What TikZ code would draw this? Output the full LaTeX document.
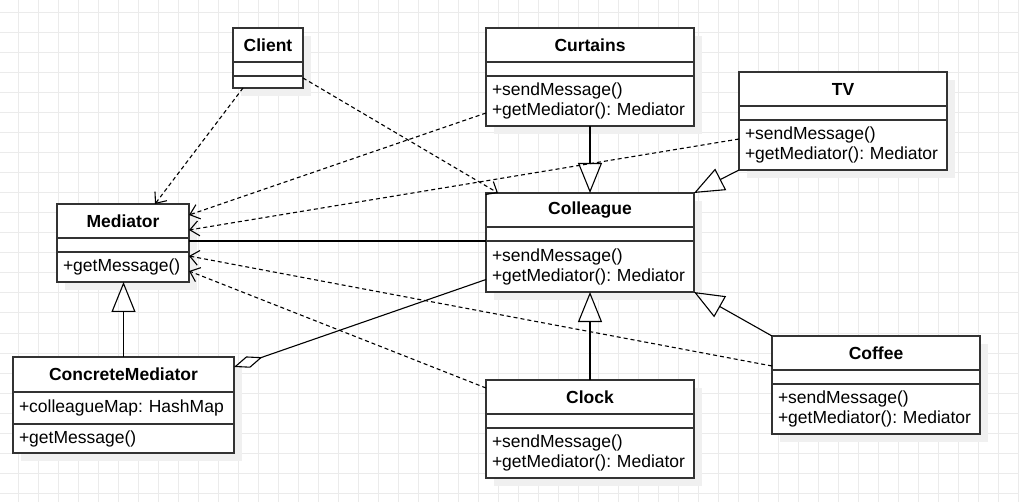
\documentclass[tikz,border=0pt]{standalone}
\usepackage{fontspec}
\setmainfont{Liberation Sans}
\frenchspacing
\usetikzlibrary{positioning, arrows.meta, shadows}

\tikzset{
	gridline/.style={black!8, line width=1pt},
	box/.style={draw=black!80, line width=1.2pt, fill=white, inner sep=0pt, outer sep=0pt,
		anchor=north, drop shadow={shadow xshift=8pt, shadow yshift=-8pt, fill=black!6, opacity=1}},
	head/.style={box, anchor=north west, font=\fontsize{17.5}{20}\selectfont\bfseries,
		minimum width=#1, minimum height=34pt},
	blank/.style={box, minimum width=#1, minimum height=14pt},
	members/.style={box, align=left, inner xsep=6pt, minimum width=#1, text width=#1-12pt},
	depend/.style={line width=1.1pt, dash pattern=on 4pt off 3pt,
		-{Straight Barb[length=9pt, width=15pt]}},
	inherit/.style={line width=1.1pt, -{Triangle[open, length=30pt, width=24pt]}},
	aggregate/.style={line width=1.1pt, {Diamond[open, length=30pt, width=12pt]}-}
}

\begin{document}
\begin{tikzpicture}[x=1pt, y=-1pt, font=\fontsize{17.5}{20}\selectfont]
		\useasboundingbox (0,0) rectangle (1019,502);
		\fill[white] (0,0) rectangle (1019,502);
		
		%Grid
		\foreach \gx in {18,38,...,1018} \draw[gridline] (\gx,0) -- (\gx,502);
		\foreach \gy in {13,33,...,493} \draw[gridline] (0,\gy) -- (1019,\gy);
		
		%Classes
		\node (client) at (233,28) [head=70pt]{Client};
		\node (clientAttr) at (client.south) [blank=70pt]{};
		\node (clientOps) at (clientAttr.south) [blank=70pt, minimum height=12pt]{};
		
		\node (mediator) at (57,204) [head=132pt]{Mediator};
		\node (mediatorAttr) at (mediator.south) [blank=132pt]{};
		\node (mediatorOps) at (mediatorAttr.south) [members=132pt, minimum height=30pt]{+getMessage()};
		
		\node (concrete) at (13,357) [head=221pt, minimum height=35pt]{ConcreteMediator};
		\node (concreteAttr) at (concrete.south) [members=221pt, minimum height=32pt]{+colleagueMap: HashMap};
		\node (concreteOps) at (concreteAttr.south) [members=221pt, minimum height=29pt]{+getMessage()};
		
		\node (curtains) at (486,28) [head=208pt]{Curtains};
		\node (curtainsAttr) at (curtains.south) [blank=208pt]{};
		\node (curtainsOps) at (curtainsAttr.south) [members=208pt, minimum height=50pt]{+sendMessage()\\+getMediator(): Mediator};
		
		\node (tv) at (739,72) [head=208pt]{TV};
		\node (tvAttr) at (tv.south) [blank=208pt]{};
		\node (tvOps) at (tvAttr.south) [members=208pt, minimum height=50pt]{+sendMessage()\\+getMediator(): Mediator};
		
		\node (colleague) at (486,193) [head=208pt]{Colleague};
		\node (colleagueAttr) at (colleague.south) [blank=208pt]{};
		\node (colleagueOps) at (colleagueAttr.south) [members=208pt, minimum height=51pt]{+sendMessage()\\+getMediator(): Mediator};
		
		\node (clock) at (486,380) [head=208pt]{Clock};
		\node (clockAttr) at (clock.south) [blank=208pt]{};
		\node (clockOps) at (clockAttr.south) [members=208pt, minimum height=50pt]{+sendMessage()\\+getMediator(): Mediator};
		
		\node (coffee) at (772,336) [head=208pt]{Coffee};
		\node (coffeeAttr) at (coffee.south) [blank=208pt]{};
		\node (coffeeOps) at (coffeeAttr.south) [members=208pt, minimum height=50pt]{+sendMessage()\\+getMediator(): Mediator};
		
		%Dependencies
		\draw[depend] ([xshift=10pt]clientOps.south west) -- ([xshift=98pt]mediator.north west);
		\draw[depend] ([yshift=-2pt]clientOps.north east) -- ([xshift=12pt]colleague.north west);
		\draw[depend] ([yshift=-12pt]curtainsOps.west) -- ([yshift=6pt]mediator.east);
		\draw[depend] ([yshift=6pt]tvOps.west) -- ([yshift=-9pt]mediator.east);
		\draw[depend] ([yshift=-13pt]coffee.west) -- ([yshift=11pt]mediatorOps.east);
		\draw[depend] ([yshift=9pt]clock.west) -- ([yshift=-4pt]mediatorOps.east);
		
		%Association and aggregation
		\draw[line width=1.1pt] (colleagueOps.north west) -- (colleagueOps.north west -| mediatorAttr.east);
		\draw[aggregate] ([yshift=7.5pt]concrete.east) -- ([yshift=-13pt]colleagueOps.west);
		
		%Generalizations
		\draw[inherit] (concrete.north) -- (concrete.north |- mediatorOps.south);
		\draw[inherit] (curtainsOps.south) -- (colleague.north);
		\draw[inherit] (tvOps.south west) -- (colleague.north east);
		\draw[inherit] (clock.north) -- (colleagueOps.south);
		\draw[inherit] (coffee.north west) -- (colleagueOps.south east);
\end{tikzpicture}
\end{document}
